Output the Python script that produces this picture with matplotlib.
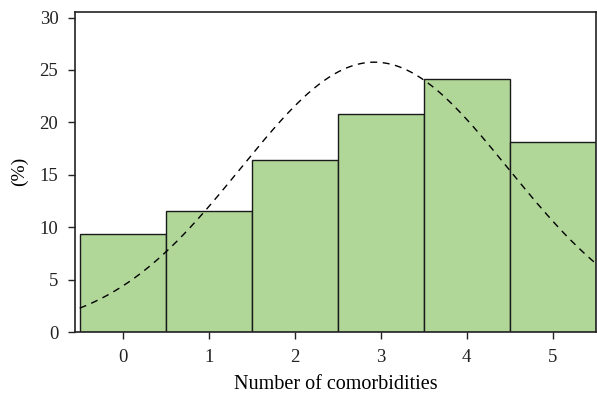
import numpy as np
import matplotlib
matplotlib.use("Agg")
import matplotlib.pyplot as plt

plt.rcParams['font.family'] = ['Liberation Serif', 'DejaVu Serif']

# number of comorbidities and share of patients (%)
categories = [0, 1, 2, 3, 4, 5]
percent = [9.38, 11.55, 16.4, 20.83, 24.14, 18.1]

fig = plt.figure(figsize=(5.97, 3.98), dpi=100)
ax = fig.add_axes([0.1256, 0.1658, 0.8734, 0.8048])

ax.bar(categories, percent, width=1.0, color="#b0d698", edgecolor="#1a1a1a", linewidth=1.0)

# fitted normal curve over the histogram
x = np.array(categories, dtype=float)
w = np.array(percent)
mu = np.sum(w * x) / np.sum(w)
sd = np.sqrt(np.sum(w * (x - mu) ** 2) / np.sum(w))
xs = np.linspace(-0.5, 5.5, 300)
ys = np.sum(w) / (sd * np.sqrt(2 * np.pi)) * np.exp(-(xs - mu) ** 2 / (2 * sd ** 2))
ax.plot(xs, ys, color="black", linestyle=(0, (5, 4)), linewidth=1.0)

ax.set_xlim(-0.555, 5.51)
ax.set_ylim(0, 30.56)
ax.set_xticks(categories)
ax.set_yticks(np.arange(0, 31, 5))
ax.tick_params(direction="out", length=5, width=1, labelsize=13.5, colors="#222222", pad=7)
for s in ax.spines.values():
    s.set_linewidth(1.2)
    s.set_color("#222222")

ax.set_xlabel("Number of comorbidities", fontsize=14.5, labelpad=7)
ax.set_ylabel("(%)", fontsize=14, labelpad=8)

fig.savefig("out.png", dpi=100)
